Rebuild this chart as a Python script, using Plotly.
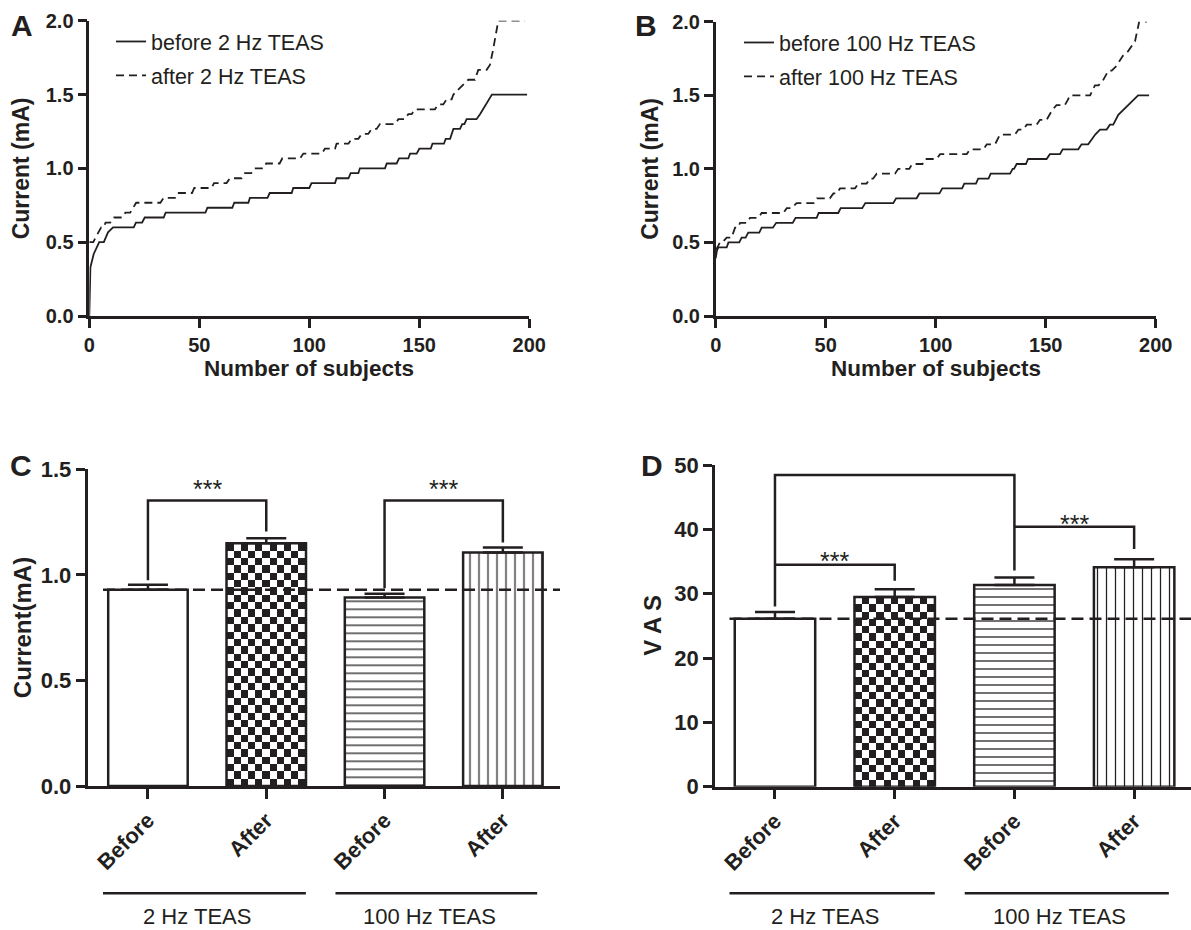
import plotly.graph_objects as go

W, H = 1191, 930
FONT = "Liberation Sans, Arial, Helvetica, sans-serif"
INK = "#231f20"

# ---------------- data ----------------
# Panels A/B: subjects sorted by current threshold -> (subject rank, current mA)
a_before = [(0, 0), (0.5, 0.33), (2, 0.42), (4.5, 0.5), (6.6, 0.5), (8.5, 0.567), (10.8, 0.6), (20.2, 0.6),
            (21.2, 0.633), (24, 0.633), (25.2, 0.667), (33.8, 0.667), (34.7, 0.7), (52.8, 0.7), (53.7, 0.733),
            (65, 0.733), (65.9, 0.767), (72.3, 0.767), (73, 0.8), (81, 0.8), (82, 0.833), (92, 0.833),
            (92.7, 0.867), (100, 0.867), (101, 0.9), (111.7, 0.9), (112.4, 0.933), (117.8, 0.933),
            (118.8, 0.967), (122.3, 0.967), (123, 1.0), (134.4, 1.0), (135.2, 1.033), (139.7, 1.033),
            (140.8, 1.067), (145, 1.067), (145.8, 1.1), (148.8, 1.1), (150, 1.133), (155.2, 1.133),
            (156, 1.167), (161.2, 1.167), (162, 1.2), (164, 1.2), (165.5, 1.267), (168.5, 1.267),
            (169.5, 1.3), (170.5, 1.3), (171.5, 1.333), (176, 1.333), (177.6, 1.367), (183, 1.5), (199, 1.5)]
a_after = [(0, 0.5), (1.8, 0.5), (2.9, 0.533), (4, 0.567), (5.4, 0.6), (6.5, 0.6), (7.4, 0.633), (9.5, 0.633),
           (11.2, 0.667), (15, 0.667), (16.4, 0.7), (18.6, 0.7), (20, 0.733), (21.3, 0.767), (32.3, 0.767),
           (33.8, 0.8), (39, 0.8), (40.2, 0.833), (46.7, 0.833), (47.7, 0.867), (55.6, 0.867), (56.7, 0.9),
           (62.4, 0.9), (63.9, 0.933), (69.2, 0.933), (70.7, 0.967), (73.6, 0.967), (75.2, 1.0), (79.2, 1.0),
           (80.4, 1.033), (86.5, 1.033), (87.7, 1.067), (95.8, 1.067), (97.3, 1.1), (105.6, 1.1),
           (107.1, 1.133), (111.7, 1.133), (112.4, 1.167), (117.8, 1.167), (119.3, 1.2), (122.3, 1.2),
           (123.8, 1.233), (126.8, 1.233), (128.3, 1.267), (130.6, 1.267), (132.1, 1.3), (138.9, 1.3),
           (140.5, 1.333), (143.5, 1.333), (145, 1.367), (146.5, 1.367), (148, 1.4), (157.1, 1.4),
           (158.6, 1.433), (160.9, 1.433), (162.4, 1.467), (164.7, 1.467), (165.5, 1.5), (167.7, 1.533),
           (170, 1.567), (172.3, 1.6), (175.3, 1.6), (176.8, 1.667), (180.6, 1.667), (182.1, 1.7),
           (183.5, 1.8), (185.9, 2.0), (198, 2.0)]
b_before = [(0, 0.392), (0.5, 0.44), (1.2, 0.467), (5, 0.467), (5.8, 0.5), (10.7, 0.5), (11.8, 0.533),
            (13.6, 0.533), (14.8, 0.567), (19.8, 0.567), (20.9, 0.6), (26, 0.6), (27.5, 0.633), (35, 0.633),
            (36.3, 0.667), (45.9, 0.667), (46.8, 0.7), (55.7, 0.7), (56.8, 0.733), (66.6, 0.733),
            (68, 0.767), (80.7, 0.767), (82, 0.8), (91.3, 0.8), (92.6, 0.833), (101.7, 0.833), (103, 0.867),
            (112, 0.867), (113, 0.9), (118.3, 0.9), (119.3, 0.933), (124, 0.933), (125, 0.967),
            (133.8, 0.967), (135, 1.0), (135.6, 1.0), (136.8, 1.033), (141, 1.033), (142, 1.067),
            (150.4, 1.067), (151.9, 1.1), (156.5, 1.1), (157.7, 1.133), (164.8, 1.133), (166.3, 1.167),
            (169.3, 1.167), (170.9, 1.2), (172.5, 1.233), (174.7, 1.267), (177.7, 1.267), (179.2, 1.3),
            (180.7, 1.3), (183, 1.367), (185.3, 1.4), (187.5, 1.433), (189.8, 1.467), (192, 1.5), (197, 1.5)]
b_after = [(0, 0.45), (0.8, 0.467), (1.9, 0.5), (3, 0.5), (5, 0.533), (7.3, 0.533), (8, 0.567), (8.8, 0.6),
           (10, 0.6), (11.1, 0.633), (14.1, 0.633), (15.6, 0.667), (19.4, 0.667), (20.9, 0.7), (30.7, 0.7),
           (32.3, 0.733), (34.5, 0.733), (36.8, 0.767), (44.5, 0.767), (46, 0.8), (51.9, 0.8), (53.5, 0.833),
           (55, 0.833), (56.5, 0.867), (63.3, 0.867), (64.8, 0.9), (68.6, 0.9), (70.1, 0.933), (71.5, 0.933),
           (73.2, 0.967), (81.5, 0.967), (83, 1.0), (88, 1.0), (89.3, 1.033), (94, 1.033), (95.3, 1.067),
           (100.4, 1.067), (102, 1.1), (114.1, 1.1), (115.6, 1.133), (121.7, 1.133), (123.2, 1.167),
           (127, 1.167), (129.2, 1.233), (136, 1.233), (137.6, 1.267), (139.8, 1.267), (141.4, 1.3),
           (145.9, 1.3), (147.4, 1.333), (150.4, 1.333), (151.9, 1.367), (153, 1.4), (154.9, 1.433),
           (158.7, 1.433), (160, 1.467), (161, 1.5), (170.2, 1.5), (172.4, 1.567), (174, 1.567), (176, 1.6),
           (178.5, 1.667), (180, 1.667), (182.2, 1.7), (185, 1.767), (187.5, 1.8), (189, 1.833),
           (190.6, 1.867), (192.5, 2.0), (196, 2.0)]

curve_xticks = [0, 50, 100, 150, 200]
curve_yticks = [0.0, 0.5, 1.0, 1.5, 2.0]

# Panels C/D: group means with SEM
bar_labels = ["Before", "After", "Before", "After"]
group_names = ["2 Hz TEAS", "100 Hz TEAS"]
current_mean = [0.929, 1.150, 0.893, 1.106]
current_sem = [0.024, 0.024, 0.017, 0.024]
vas_mean = [26.1, 29.5, 31.35, 34.1]
vas_sem = [1.05, 1.2, 1.15, 1.25]
current_yticks = [0.0, 0.5, 1.0, 1.5]
vas_yticks = [0, 10, 20, 30, 40, 50]

# significance brackets: (left bar, right bar, top, left-leg end, right-leg end, star level)
current_sig = [(0, 1, 1.352, 0.975, 1.205, 1.434), (2, 3, 1.352, 0.937, 1.153, 1.434)]
vas_sig = [(0, 2, 48.45, 28.0, 33.6, 50.7), (0, 1, 34.5, 34.5, 32.0, 36.0), (2, 3, 40.4, 40.4, 36.95, 41.8)]

# ---------------- geometry (pixels) ----------------
def fx(p):
    return p / W


def fy(p):
    return 1 - p / H


A_BOX = (89.3, 529.3, 20.7, 316.0)
B_BOX = (715.7, 1155.7, 21.7, 316.0)
C_BOX = (87.5, 560.0, 469.3, 786.0)
D_BOX = (715.0, 1191.0, 465.0, 786.7)
C_XRANGE = [-0.511, 3.483]
D_XRANGE = [-0.501, 3.475]
BAR_W = 0.672
GROUP_SPANS = [(-0.38, 1.335), (1.585, 3.29)]
# per-bar fill style: none, checker (heatmap texture), horizontal lines, vertical lines
BAR_STYLES = [("", 8, 0.16), ("checker", 8, 0.16), ("-", 8, 0.16), ("|", 9, 0.14)]

tick_font = dict(family=FONT, size=20, color=INK, weight="bold")


def ax(**kw):
    d = dict(showline=True, linewidth=2.5, linecolor=INK, ticks="outside", ticklen=9, tickwidth=2.5,
             tickcolor=INK, showgrid=False, zeroline=False, tickfont=tick_font, fixedrange=True,
             layer="above traces")
    d.update(kw)
    return d


fig = go.Figure()

# ---- A and B curves ----
for pts, name, dash, xa, ya, leg, grp in [
    (a_before, "before 2 Hz TEAS", "solid", "x", "y", "legend", "a1"),
    (a_after, "after 2 Hz TEAS", "8px,5px", "x", "y", "legend", "a2"),
    (b_before, "before 100 Hz TEAS", "solid", "x2", "y2", "legend2", "b1"),
    (b_after, "after 100 Hz TEAS", "8px,5px", "x2", "y2", "legend2", "b2"),
]:
    fig.add_trace(go.Scatter(x=[p[0] for p in pts], y=[p[1] for p in pts], mode="lines", name=name,
                             line=dict(color=INK, width=1.8, dash=dash), xaxis=xa, yaxis=ya,
                             legend=leg, legendgroup=grp, hoverinfo="skip"))


# ---- C and D bars ----
def checker(idx, mean, px_x, px_y, xa, ya, cell=7.3):
    ncol = max(1, round(BAR_W * px_x / cell))
    nrow = max(1, round(mean * px_y / cell))
    xe = [idx - BAR_W / 2 + BAR_W * k / ncol for k in range(ncol + 1)]
    ye = [mean * k / nrow for k in range(nrow + 1)]
    z = [[(i + j + 1) % 2 for j in range(ncol)] for i in range(nrow)]
    return go.Heatmap(x=xe, y=ye, z=z, zmin=0, zmax=1, colorscale=[[0, "white"], [1, INK]],
                      showscale=False, hoverinfo="skip", xaxis=xa, yaxis=ya)


panels = [
    (current_mean, current_sem, C_BOX, C_XRANGE, [0, 1.5], "x3", "y3"),
    (vas_mean, vas_sem, D_BOX, D_XRANGE, [0, 50], "x4", "y4"),
]
xs = list(range(len(bar_labels)))
for means, sems, box, xr, yr, xa, ya in panels:
    px_x = (box[1] - box[0]) / (xr[1] - xr[0])
    px_y = (box[3] - box[2]) / (yr[1] - yr[0])
    for i, (style, psize, psol) in enumerate(BAR_STYLES):
        marker = dict(color="white", line=dict(color=INK, width=2.5))
        if style == "checker":
            fig.add_trace(checker(i, means[i], px_x, px_y, xa, ya))
            marker["color"] = "rgba(0,0,0,0)"
        elif style:
            marker["pattern"] = dict(shape=style, size=psize, solidity=psol, fgcolor=INK,
                                     bgcolor="white", fillmode="replace")
        fig.add_trace(go.Bar(
            x=[xs[i]], y=[means[i]], width=BAR_W, xaxis=xa, yaxis=ya, showlegend=False, hoverinfo="skip",
            marker=marker,
            error_y=dict(type="data", symmetric=False, array=[sems[i]], arrayminus=[0],
                         color=INK, thickness=2.5, width=20),
        ))
    # dashed reference line at the "before 2 Hz" mean
    fig.add_trace(go.Scatter(x=[-0.38, xr[1]], y=[means[0], means[0]], mode="lines", xaxis=xa, yaxis=ya,
                             line=dict(color=INK, width=2.5, dash="12px,6px"), showlegend=False,
                             hoverinfo="skip"))

shapes = []
annotations = []


def bracket_shapes(sig, xa, ya):
    for l, r, top, lb, rb, star in sig:
        shapes.append(dict(type="path", xref=xa, yref=ya, layer="above",
                           path=f"M {l},{lb} L {l},{top} L {r},{top} L {r},{rb}",
                           line=dict(color=INK, width=2.5)))
        annotations.append(dict(x=(l + r) / 2, y=star, xref=xa, yref=ya, text="***", showarrow=False,
                                yanchor="middle", yshift=-6, font=dict(family=FONT, size=25, color=INK)))


bracket_shapes(current_sig, "x3", "y3")
bracket_shapes(vas_sig, "x4", "y4")

for xa in ["x3", "x4"]:
    for (s0, s1), g in zip(GROUP_SPANS, group_names):
        shapes.append(dict(type="line", xref=xa, yref="paper", x0=s0, x1=s1, y0=fy(893.3), y1=fy(893.3),
                           line=dict(color=INK, width=2.5)))
        annotations.append(dict(x=(s0 + s1) / 2 - 0.06, y=fy(916), xref=xa, yref="paper", text=g,
                                showarrow=False, yanchor="middle",
                                font=dict(family=FONT, size=22, color=INK)))

# axis titles and panel letters
for txt, x, y, ang, fs in [
    ("Current (mA)", 21, (A_BOX[2] + A_BOX[3]) / 2, -90, 23),
    ("Current (mA)", 650, (B_BOX[2] + B_BOX[3]) / 2, -90, 23),
    ("Current(mA)", 22.5, (C_BOX[2] + C_BOX[3]) / 2, -90, 24),
    ("V A S", 653, (D_BOX[2] + D_BOX[3]) / 2, -90, 24),
    ("Number of subjects", (A_BOX[0] + A_BOX[1]) / 2, 368, 0, 22.5),
    ("Number of subjects", (B_BOX[0] + B_BOX[1]) / 2, 368, 0, 22.5),
]:
    annotations.append(dict(x=fx(x), y=fy(y), xref="paper", yref="paper", text=txt, showarrow=False,
                            textangle=ang, xanchor="center", yanchor="middle",
                            font=dict(family=FONT, size=fs, color=INK, weight="bold")))

for txt, x, y in [("A", 21.5, 26), ("B", 646, 26), ("C", 20.5, 465), ("D", 652, 465)]:
    annotations.append(dict(x=fx(x), y=fy(y), xref="paper", yref="paper", text=txt, showarrow=False,
                            xanchor="center", yanchor="middle",
                            font=dict(family=FONT, size=30, color=INK, weight="bold")))

legend_common = dict(xanchor="left", yanchor="top", bgcolor="rgba(0,0,0,0)", borderwidth=0,
                     font=dict(family=FONT, size=21.5, color=INK), traceorder="grouped",
                     tracegroupgap=3, itemwidth=30)

fig.update_layout(
    width=W, height=H, margin=dict(l=0, r=0, t=0, b=0), template="none",
    paper_bgcolor="white", plot_bgcolor="white", barmode="overlay",
    font=dict(family=FONT, color=INK),
    legend=dict(x=fx(111), y=fy(21), **legend_common),
    legend2=dict(x=fx(739), y=fy(22), **legend_common),
    xaxis=ax(domain=[fx(A_BOX[0]), fx(A_BOX[1])], range=[0, 200], tickvals=curve_xticks, anchor="y"),
    yaxis=ax(domain=[fy(A_BOX[3]), fy(A_BOX[2])], range=[0, 2], tickvals=curve_yticks, tickformat=".1f",
             anchor="x"),
    xaxis2=ax(domain=[fx(B_BOX[0]), fx(B_BOX[1])], range=[0, 200], tickvals=curve_xticks, anchor="y2"),
    yaxis2=ax(domain=[fy(B_BOX[3]), fy(B_BOX[2])], range=[0, 2], tickvals=curve_yticks, tickformat=".1f",
              anchor="x2"),
    xaxis3=ax(domain=[fx(C_BOX[0]), fx(C_BOX[1])], range=C_XRANGE, tickvals=xs, ticktext=bar_labels,
              tickangle=-45, ticklen=10, anchor="y3", tickfont=dict(tick_font, size=22)),
    yaxis3=ax(domain=[fy(C_BOX[3]), fy(C_BOX[2])], range=[0, 1.5], tickvals=current_yticks,
              tickformat=".1f", anchor="x3", tickfont=dict(tick_font, size=22)),
    xaxis4=ax(domain=[fx(D_BOX[0]), fx(D_BOX[1])], range=D_XRANGE, tickvals=xs, ticktext=bar_labels,
              tickangle=-45, ticklen=10, anchor="y4", tickfont=dict(tick_font, size=22)),
    yaxis4=ax(domain=[fy(D_BOX[3]), fy(D_BOX[2])], range=[0, 50], tickvals=vas_yticks, anchor="x4",
              tickfont=dict(tick_font, size=22)),
    shapes=shapes,
    annotations=annotations,
)

fig.write_html("out.html")
